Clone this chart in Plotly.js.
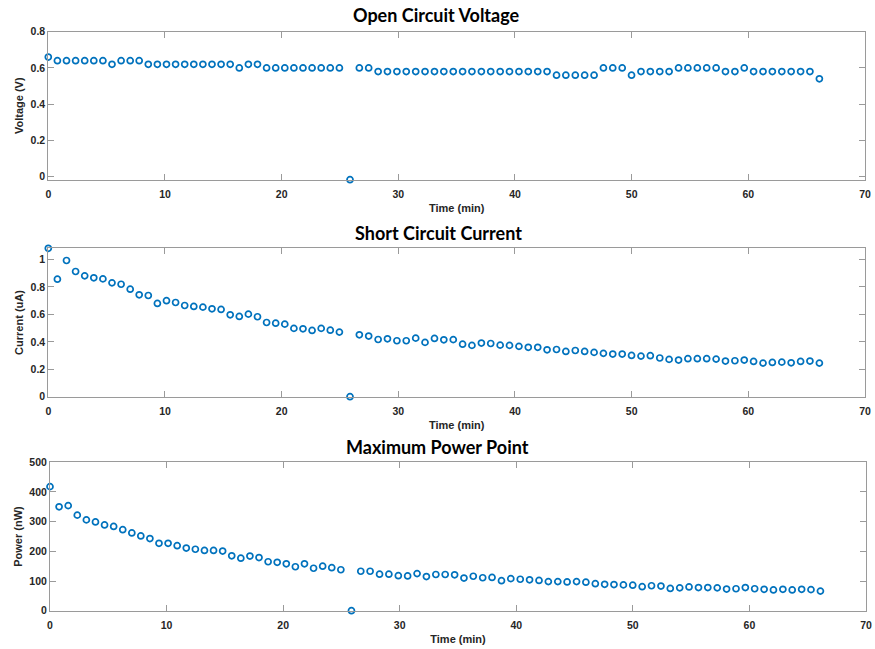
<!DOCTYPE html>
<html>
<head>
<meta charset="utf-8">
<script src="https://cdn.plot.ly/plotly-3.0.1.min.js"></script>
<style>
  html, body { margin: 0; padding: 0; background: #ffffff; }
  #chart { width: 875px; height: 649px; }
</style>
</head>
<body>
<div id="chart"></div>
<script>
// Time stamps (min)
var timeMin = [
  0.00, 0.78, 1.56, 2.34, 3.12, 3.90, 4.68, 5.46, 6.24, 7.02,
  7.79, 8.57, 9.35, 10.13, 10.91, 11.69, 12.47, 13.25, 14.03, 14.81,
  15.59, 16.37, 17.15, 17.93, 18.71, 19.49, 20.27, 21.05, 21.83, 22.61,
  23.39, 24.17, 24.95, 25.86, 26.66, 27.46, 28.27, 29.07, 29.88, 30.68,
  31.49, 32.29, 33.10, 33.90, 34.71, 35.51, 36.31, 37.12, 37.92, 38.73,
  39.53, 40.34, 41.14, 41.95, 42.75, 43.56, 44.36, 45.17, 45.97, 46.78,
  47.58, 48.38, 49.19, 49.99, 50.80, 51.60, 52.41, 53.21, 54.02, 54.82,
  55.63, 56.43, 57.24, 58.04, 58.85, 59.65, 60.45, 61.26, 62.06, 62.87,
  63.67, 64.48, 65.28, 66.09
];

// Open circuit voltage (V)
var voltageV = [
  0.66, 0.64, 0.64, 0.64, 0.64, 0.64, 0.64, 0.62, 0.64, 0.64,
  0.64, 0.62, 0.62, 0.62, 0.62, 0.62, 0.62, 0.62, 0.62, 0.62,
  0.62, 0.60, 0.62, 0.62, 0.60, 0.60, 0.60, 0.60, 0.60, 0.60,
  0.60, 0.60, 0.60, -0.017, 0.60, 0.60, 0.58, 0.58, 0.58, 0.58,
  0.58, 0.58, 0.58, 0.58, 0.58, 0.58, 0.58, 0.58, 0.58, 0.58,
  0.58, 0.58, 0.58, 0.58, 0.58, 0.56, 0.56, 0.56, 0.56, 0.56,
  0.60, 0.60, 0.60, 0.56, 0.58, 0.58, 0.58, 0.58, 0.60, 0.60,
  0.60, 0.60, 0.60, 0.58, 0.58, 0.60, 0.58, 0.58, 0.58, 0.58,
  0.58, 0.58, 0.58, 0.54
];

// Short circuit current (uA)
var currentUA = [
  1.082, 0.857, 0.993, 0.913, 0.881, 0.867, 0.859, 0.830, 0.820, 0.784,
  0.743, 0.738, 0.680, 0.700, 0.687, 0.665, 0.658, 0.653, 0.641, 0.636,
  0.597, 0.585, 0.602, 0.583, 0.541, 0.536, 0.529, 0.498, 0.495, 0.483,
  0.498, 0.485, 0.471, 0.000, 0.451, 0.442, 0.417, 0.422, 0.408, 0.408,
  0.427, 0.396, 0.425, 0.415, 0.416, 0.383, 0.374, 0.391, 0.388, 0.376,
  0.374, 0.367, 0.360, 0.360, 0.342, 0.344, 0.330, 0.337, 0.330, 0.323,
  0.316, 0.311, 0.311, 0.301, 0.296, 0.299, 0.282, 0.272, 0.267, 0.277,
  0.277, 0.277, 0.274, 0.260, 0.262, 0.267, 0.257, 0.245, 0.250, 0.252,
  0.247, 0.257, 0.260, 0.245
];

// Maximum power point (nW)
var powerNW = [
  418, 350, 354, 322, 306, 299, 289, 284, 273, 262,
  252, 243, 227, 227, 219, 211, 207, 203, 203, 201,
  185, 177, 184, 179, 165, 163, 158, 148, 158, 143,
  150, 145, 138, 0, 133, 133, 123, 123, 118, 117,
  125, 115, 122, 122, 121, 110, 116, 111, 112, 101,
  108, 106, 104, 102, 98, 98, 97, 98, 96, 91,
  89, 88, 87, 86, 81, 84, 83, 75, 77, 80,
  78, 78, 77, 73, 74, 78, 74, 72, 70, 72,
  70, 72, 71, 66
];

var xTicks = [0, 10, 20, 30, 40, 50, 60, 70];
var vTicks = [0, 0.2, 0.4, 0.6, 0.8];
var iTicks = [0, 0.2, 0.4, 0.6, 0.8, 1];
var pTicks = [0, 100, 200, 300, 400, 500];

var titles = ['Open Circuit Voltage', 'Short Circuit Current', 'Maximum Power Point'];
var yTitles = ['Voltage (V)', 'Current (uA)', 'Power (nW)'];
var xTitle = 'Time (min)';

var blue = '#0072BD';
var axisGray = '#9a9a9a';
var tickTextColor = '#262626';

function mk(y, xa, ya) {
  return {
    x: timeMin, y: y, xaxis: xa, yaxis: ya,
    type: 'scatter', mode: 'markers', cliponaxis: false,
    marker: { symbol: 'circle-open', size: 6, color: blue, line: { width: 1.7, color: blue } },
    showlegend: false, hoverinfo: 'x+y'
  };
}

var data = [
  mk(voltageV, 'x', 'y'),
  mk(currentUA, 'x2', 'y2'),
  mk(powerNW, 'x3', 'y3')
];

var tickFont = { family: 'Liberation Sans, Arial, sans-serif', size: 10.5, color: tickTextColor, weight: 'bold' };
var labFont = { family: 'Liberation Sans, Arial, sans-serif', size: 11, color: tickTextColor, weight: 'bold' };

function xAx(domain, anchor) {
  return {
    domain: domain, anchor: anchor, range: [0, 70],
    tickvals: xTicks, ticktext: xTicks.map(String),
    ticks: 'inside', ticklen: 6, tickwidth: 1, tickcolor: axisGray,
    showline: true, linecolor: axisGray, linewidth: 1, mirror: 'ticks',
    showgrid: false, zeroline: false, tickfont: tickFont,
    ticklabelstandoff: 5,
    title: { text: xTitle, font: labFont, standoff: 5 },
    automargin: false, fixedrange: true
  };
}
function yAx(domain, anchor, range, ticks, title, fmt) {
  return {
    domain: domain, anchor: anchor, range: range,
    tickvals: ticks, ticktext: ticks.map(fmt),
    ticks: 'inside', ticklen: 6, tickwidth: 1, tickcolor: axisGray,
    showline: true, linecolor: axisGray, linewidth: 1, mirror: 'ticks',
    showgrid: false, zeroline: false, tickfont: tickFont,
    title: { text: title, font: labFont, standoff: 4 },
    automargin: false, fixedrange: true
  };
}
function f1(v) { return v === 0 ? '0' : (v === 1 ? '1' : v.toFixed(1)); }

var W = 875, H = 649;
function xd(a, b) { return [a / W, b / W]; }
function yd(top, bottom) { return [1 - bottom / H, 1 - top / H]; }

var titleFont = { family: 'Lato, Open Sans, sans-serif', size: 18, color: '#000000' };

var layout = {
  width: W, height: H,
  margin: { l: 0, r: 0, t: 0, b: 0 },
  paper_bgcolor: '#ffffff', plot_bgcolor: '#ffffff',
  xaxis: xAx(xd(48.3, 865), 'y'),
  yaxis: yAx(yd(31.7, 179.7), 'x', [-0.017, 0.8], vTicks, yTitles[0], f1),
  xaxis2: xAx(xd(48.3, 865), 'y2'),
  yaxis2: yAx(yd(248.3, 396.7), 'x2', [0, 1.082], iTicks, yTitles[1], f1),
  xaxis3: xAx(xd(50, 866), 'y3'),
  yaxis3: yAx(yd(462.3, 610.7), 'x3', [0, 500], pTicks, yTitles[2], String),
  annotations: [
    { text: '<b>' + titles[0] + '</b>', xref: 'paper', yref: 'paper', x: 436.5 / W, y: 1 - 15 / H, showarrow: false, xanchor: 'center', yanchor: 'middle', font: titleFont },
    { text: '<b>' + titles[1] + '</b>', xref: 'paper', yref: 'paper', x: 439 / W, y: 1 - 233.3 / H, showarrow: false, xanchor: 'center', yanchor: 'middle', font: titleFont },
    { text: '<b>' + titles[2] + '</b>', xref: 'paper', yref: 'paper', x: 437.5 / W, y: 1 - 447.3 / H, showarrow: false, xanchor: 'center', yanchor: 'middle', font: titleFont }
  ]
};

Plotly.newPlot('chart', data, layout, { displayModeBar: false, staticPlot: true });
</script>
</body>
</html>
